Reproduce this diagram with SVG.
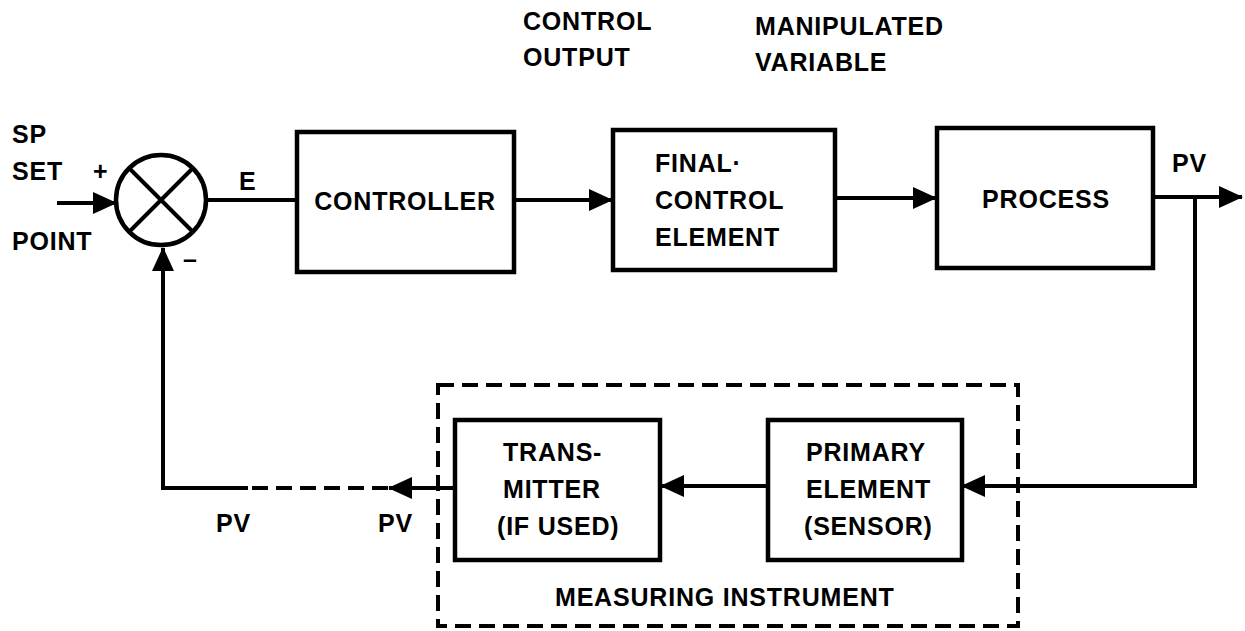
<svg xmlns="http://www.w3.org/2000/svg" width="1245" height="631" viewBox="0 0 1245 631">
<defs>
<marker id="ah" viewBox="0 0 24 22" refX="23" refY="11" markerWidth="24" markerHeight="22" orient="auto" markerUnits="userSpaceOnUse">
<path d="M0,0 L24,11 L0,22 z" fill="#000"/>
</marker>
</defs>
<style>
text{font-family:"Liberation Sans",Arial,sans-serif;font-weight:bold;font-size:25px;fill:#000;letter-spacing:0.8px}
.box{fill:#fff;stroke:#000;stroke-width:4.5}
.ln{fill:none;stroke:#000;stroke-width:4}
.dash{fill:none;stroke:#000;stroke-width:4;stroke-dasharray:16 8}
.mid{text-anchor:middle}
</style>
<rect width="1245" height="631" fill="#fff"/>

<g id="labels">
<text x="523" y="30">CONTROL</text>
<text x="523" y="66">OUTPUT</text>
<text x="755" y="35">MANIPULATED</text>
<text x="755" y="71">VARIABLE</text>
<text x="12" y="143">SP</text>
<text x="12" y="180">SET</text>
<text x="12" y="250">POINT</text>
<text x="93" y="180">+</text>
<text x="183" y="268">–</text>
<text x="239" y="190">E</text>
<text x="1172" y="172">PV</text>
<text x="216" y="532">PV</text>
<text x="378" y="532">PV</text>
</g>

<g id="connectors">
<path class="ln" d="M57 203 L116 203" marker-end="url(#ah)"/>
<path class="ln" d="M206 200 L297 200"/>
<path class="ln" d="M514 200 L612 200" marker-end="url(#ah)"/>
<path class="ln" d="M835 198 L936 198" marker-end="url(#ah)"/>
<path class="ln" d="M1153 197 L1242 197" marker-end="url(#ah)"/>
<path class="ln" d="M1195 197 L1195 486 L962 486" marker-end="url(#ah)"/>
<path class="ln" d="M768 486 L661 486" marker-end="url(#ah)"/>
<path class="ln" d="M455 488 L389 488" marker-end="url(#ah)"/>
<path class="dash" d="M388 488 L244 488"/>
<path class="ln" d="M248 488 L163 488 L163 248" marker-end="url(#ah)"/>
</g>

<g id="sum">
<circle cx="161" cy="200" r="45" class="box"/>
<path class="ln" d="M129 168 L193 232 M193 168 L129 232"/>
</g>

<g id="controller">
<rect class="box" x="297" y="132" width="217" height="140"/>
<text class="mid" x="405" y="210">CONTROLLER</text>
</g>

<g id="final">
<rect class="box" x="613" y="130" width="222" height="140"/>
<text x="655" y="172">FINAL·</text>
<text x="655" y="209">CONTROL</text>
<text x="655" y="246">ELEMENT</text>
</g>

<g id="process">
<rect class="box" x="937" y="128" width="216" height="140"/>
<text class="mid" x="1046" y="208">PROCESS</text>
</g>

<g id="measuring">
<rect x="438" y="385" width="580" height="241" class="dash"/>
<text x="555" y="606">MEASURING INSTRUMENT</text>
</g>

<g id="transmitter">
<rect class="box" x="455" y="420" width="205" height="140"/>
<text x="503" y="461">TRANS-</text>
<text x="503" y="498">MITTER</text>
<text x="497" y="535">(IF USED)</text>
</g>

<g id="primary">
<rect class="box" x="768" y="420" width="194" height="140"/>
<text x="806" y="461">PRIMARY</text>
<text x="806" y="498">ELEMENT</text>
<text x="804" y="535">(SENSOR)</text>
</g>
</svg>
